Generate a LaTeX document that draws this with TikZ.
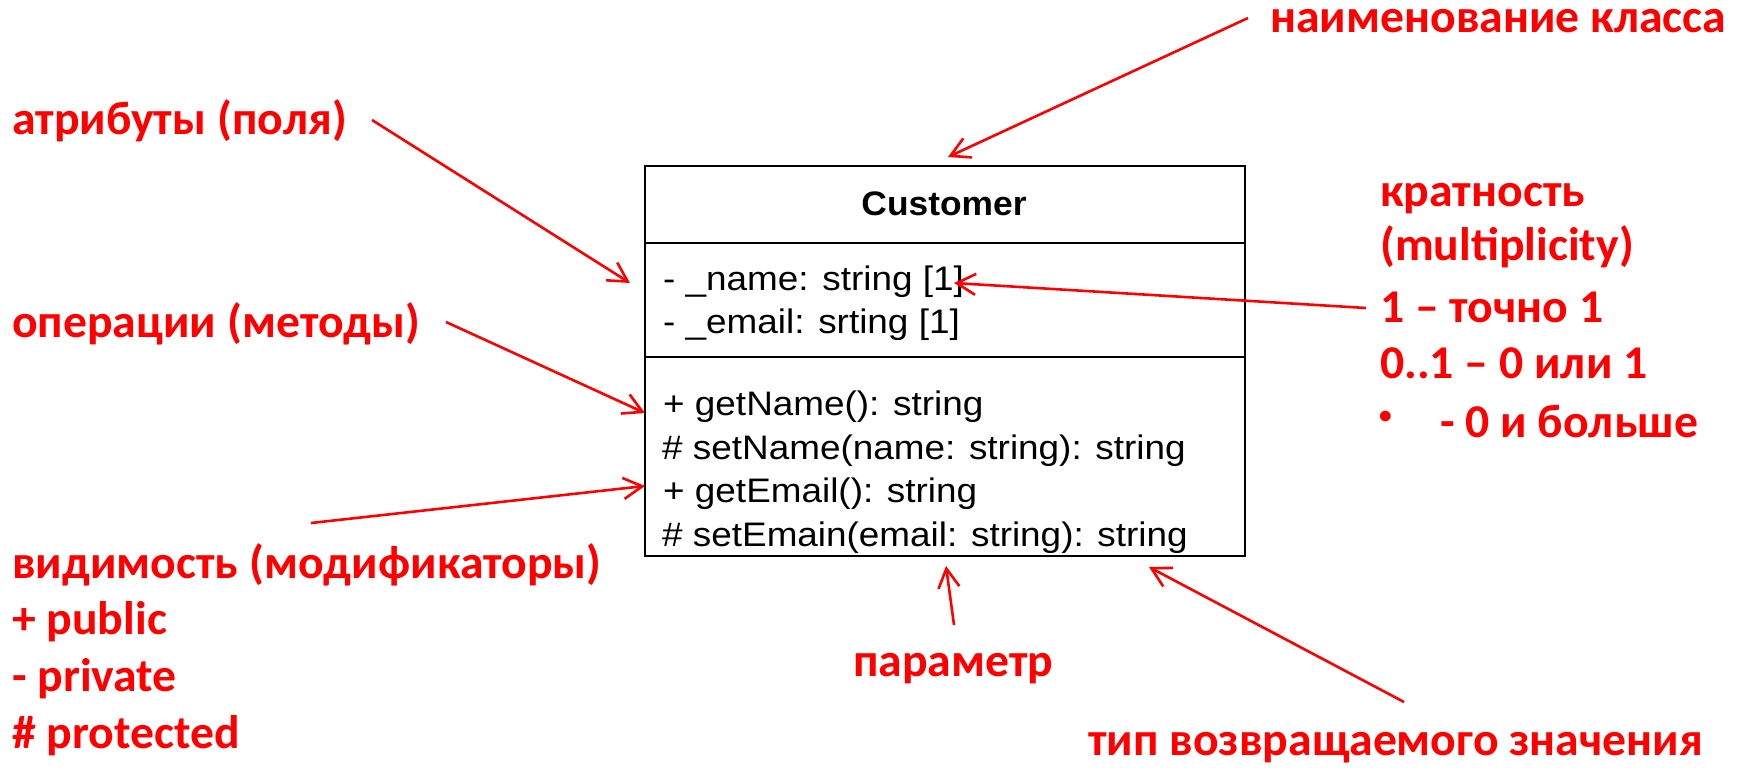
\documentclass[tikz,border=0pt]{standalone}
\usepackage{fontspec}
\setmainfont{Liberation Sans}
\newfontfamily\boxfont[FakeStretch=1.085]{Liberation Sans}
\newfontfamily\titlefont[FakeStretch=1.04]{Liberation Sans}
\newfontfamily\lblfont[FakeStretch=1.015]{Carlito}
\usetikzlibrary{arrows.meta}
\begin{document}
\begin{tikzpicture}[x=1pt,y=-1pt,
  lbl/.style={text=red, font=\lblfont\bfseries\fontsize{47}{56}\selectfont, anchor=base west, inner sep=0pt},
  row/.style={font=\boxfont\fontsize{34}{40}\selectfont, anchor=base west, inner sep=0pt},
  pointer/.style={draw=red, line width=2.6pt, -{Straight Barb[length=19pt,width=21pt]}},
  boxline/.style={draw=black, line width=2.8pt}]
\useasboundingbox (0,0) rectangle (1744,770);

% class box
\draw[boxline] (645,166) rectangle (1245,556);
\draw[boxline] (645,243) -- (1245,243);
\draw[boxline] (645,357) -- (1245,357);

\node[font=\titlefont\bfseries\fontsize{34}{40}\selectfont, anchor=base, inner sep=0pt] (title) at (944,215) {Customer};
\node[row] (a1) at (663,290) {- \_name: string [1]};
\node[row] (a2) at (663,333) {- \_email: srting [1]};
\node[row] (m1) at (663,415) {+ getName(): string};
\node[row] (m2) at (662,459) {\# setName(name: string): string};
\node[row] (m3) at (663,502) {+ getEmail(): string};
\node[row] (m4) at (662,546) {\# setEmain(email: string): string};

% labels
\node[lbl] (lname) at (1270,33) {наименование класса};
\node[lbl] (lattr) at (12,135) {атрибуты (поля)};
\node[lbl] (lops) at (12,337) {операции (методы)};
\node[lbl] (lvis) at (12,578) {видимость (модификаторы)};
\node[lbl] (lpub) at (12,634) {+ public};
\node[lbl] (lpriv) at (12,691) {- private};
\node[lbl] (lprot) at (12,748) {\# protected};
\node[lbl] (lparam) at (853,676) {параметр};
\node[lbl] (lret) at (1088,755) {тип возвращаемого значения};
\node[lbl] (mult1) at (1380,207) {кратность};
\node[lbl] (mult2) at (1380,260) {(multiplicity)};
\node[lbl] (mult3) at (1380,322) {1 – точно 1};
\node[lbl] (mult4) at (1380,378) {0..1 – 0 или 1};
\node[lbl, font=\lblfont\bfseries\fontsize{25}{30}\selectfont] (mult5b) at (1379,423) {•};
\node[lbl] (mult5) at (1440,437) {- 0 и больше};

% arrow end points
\coordinate (s1) at (1248,18);  \coordinate (e1) at (948,157);
\coordinate (s2) at (372,120);  \coordinate (e2) at (630,283);
\coordinate (s3) at (446,322);  \coordinate (e3) at (645,413);
\coordinate (s4) at (311,523);  \coordinate (e4) at (645,486);
\coordinate (s5) at (954,625);  \coordinate (e5) at (946,566);
\coordinate (s6) at (1404,702); \coordinate (e6) at (1149,567);
\coordinate (s7) at (1366,308); \coordinate (e7) at (954,283);

\draw[pointer] (s1) -- (e1);
\draw[pointer] (s2) -- (e2);
\draw[pointer] (s3) -- (e3);
\draw[pointer] (s4) -- (e4);
\draw[pointer] (s5) -- (e5);
\draw[pointer] (s6) -- (e6);
\draw[pointer] (s7) -- (e7);
\end{tikzpicture}
\end{document}
